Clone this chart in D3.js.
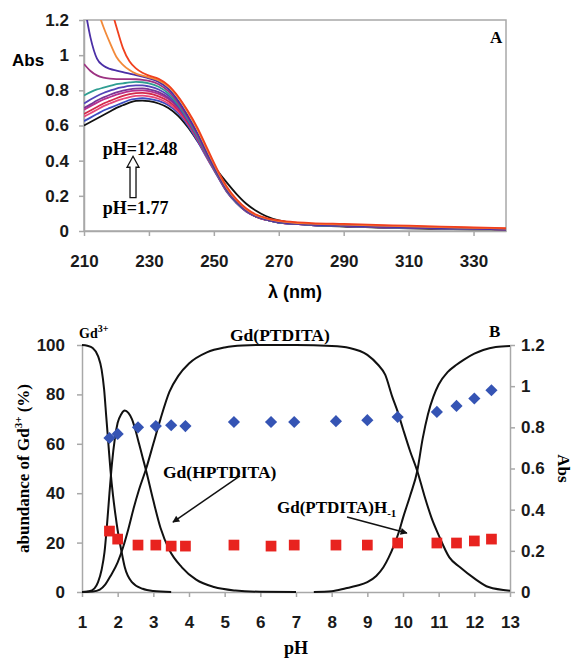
<!DOCTYPE html>
<html>
<head>
<meta charset="utf-8">
<script src="https://cdn.jsdelivr.net/npm/d3@7"></script>
<style>
  body { margin: 0; background: #fff; }
  svg { display: block; }
  .sans { font-family: "Liberation Sans", Arial, sans-serif; font-weight: bold; }
  .serif { font-family: "Liberation Serif", "Times New Roman", serif; font-weight: bold; }
</style>
</head>
<body>
<svg id="chart" width="572" height="658"></svg>
<script>
// ---------- panel A : UV spectra (pH 1.77 -> 12.48) ----------
const wavelengths = [210, 212, 214, 216, 218, 220, 222, 224, 226, 228, 230, 233, 236, 239, 242, 245,
  248, 251, 254, 257, 260, 263, 266, 270, 275, 280, 290, 300, 310, 320, 330, 340];

const specBlack = [0.60, 0.62, 0.64, 0.66, 0.68, 0.70, 0.715, 0.73, 0.74, 0.742, 0.738, 0.725, 0.70, 0.655, 0.59, 0.51,
  0.425, 0.345, 0.275, 0.21, 0.155, 0.115, 0.085, 0.06, 0.045, 0.035, 0.025, 0.02, 0.015, 0.012, 0.01, 0.008];
const specBlue = [0.625, 0.645, 0.665, 0.685, 0.70, 0.715, 0.73, 0.745, 0.752, 0.755, 0.752, 0.74, 0.715, 0.67, 0.60, 0.51,
  0.41, 0.315, 0.222, 0.158, 0.11, 0.082, 0.064, 0.048, 0.04, 0.034, 0.028, 0.022, 0.018, 0.015, 0.012, 0.01];
const specPink = [0.65, 0.67, 0.69, 0.71, 0.725, 0.74, 0.752, 0.762, 0.768, 0.77, 0.766, 0.752, 0.725, 0.68, 0.61, 0.52,
  0.415, 0.318, 0.225, 0.16, 0.112, 0.082, 0.064, 0.048, 0.04, 0.034, 0.028, 0.022, 0.018, 0.015, 0.012, 0.01];
const specCrimson = [0.665, 0.685, 0.705, 0.725, 0.74, 0.755, 0.768, 0.778, 0.784, 0.786, 0.782, 0.766, 0.738, 0.69, 0.615, 0.523,
  0.418, 0.32, 0.226, 0.16, 0.112, 0.082, 0.064, 0.048, 0.04, 0.035, 0.03, 0.025, 0.02, 0.016, 0.013, 0.01];
const specMagenta = [0.69, 0.71, 0.73, 0.748, 0.762, 0.775, 0.786, 0.794, 0.798, 0.80, 0.796, 0.78, 0.75, 0.70, 0.622, 0.527,
  0.42, 0.32, 0.226, 0.16, 0.112, 0.082, 0.064, 0.048, 0.04, 0.034, 0.028, 0.022, 0.018, 0.015, 0.012, 0.01];
const specPurple = [0.70, 0.72, 0.742, 0.76, 0.775, 0.788, 0.798, 0.806, 0.81, 0.811, 0.806, 0.79, 0.758, 0.705, 0.625, 0.53,
  0.422, 0.322, 0.228, 0.162, 0.113, 0.083, 0.064, 0.048, 0.04, 0.034, 0.028, 0.022, 0.018, 0.015, 0.012, 0.01];
const specViolet = [0.725, 0.748, 0.768, 0.785, 0.798, 0.81, 0.818, 0.825, 0.828, 0.828, 0.822, 0.805, 0.77, 0.712, 0.63, 0.533,
  0.424, 0.322, 0.228, 0.162, 0.113, 0.083, 0.064, 0.048, 0.04, 0.034, 0.028, 0.022, 0.018, 0.015, 0.012, 0.01];
const specTeal = [0.77, 0.79, 0.805, 0.815, 0.825, 0.835, 0.84, 0.845, 0.848, 0.846, 0.84, 0.82, 0.782, 0.72, 0.635, 0.535,
  0.425, 0.323, 0.228, 0.162, 0.113, 0.083, 0.064, 0.048, 0.04, 0.034, 0.028, 0.022, 0.018, 0.015, 0.012, 0.01];
const specMaroon = [0.95, 0.91, 0.885, 0.872, 0.866, 0.864, 0.864, 0.864, 0.863, 0.86, 0.854, 0.835, 0.795, 0.73, 0.645, 0.545,
  0.432, 0.328, 0.232, 0.165, 0.115, 0.085, 0.066, 0.05, 0.042, 0.036, 0.03, 0.024, 0.02, 0.016, 0.013, 0.01];
const specIndigo = [1.30, 1.10, 0.98, 0.94, 0.922, 0.912, 0.903, 0.895, 0.887, 0.878, 0.868, 0.848, 0.808, 0.742, 0.655, 0.555,
  0.44, 0.332, 0.235, 0.167, 0.117, 0.086, 0.067, 0.05, 0.042, 0.036, 0.03, 0.025, 0.02, 0.016, 0.013, 0.01];
const specOrange = [1.60, 1.42, 1.27, 1.16, 1.07, 0.99, 0.945, 0.915, 0.895, 0.884, 0.874, 0.856, 0.822, 0.76, 0.675, 0.575,
  0.458, 0.345, 0.245, 0.175, 0.124, 0.09, 0.072, 0.056, 0.047, 0.042, 0.036, 0.031, 0.026, 0.022, 0.018, 0.014];
const specRed = [1.90, 1.72, 1.56, 1.42, 1.29, 1.16, 1.04, 0.965, 0.925, 0.90, 0.884, 0.865, 0.828, 0.765, 0.682, 0.585,
  0.468, 0.352, 0.252, 0.18, 0.128, 0.094, 0.075, 0.06, 0.05, 0.045, 0.04, 0.035, 0.03, 0.025, 0.02, 0.016];

const spectra = [specBlack, specBlue, specPink, specCrimson, specMagenta, specPurple, specViolet,
  specTeal, specMaroon, specIndigo, specOrange, specRed];
const spectraColors = ["#111111", "#3b4cc0", "#e8487a", "#d42a4a", "#b8308c", "#7b3596", "#5344b8",
  "#2f9e92", "#9c3282", "#4b2fa6", "#f28a3a", "#f0401e"];

const lambdaTicks = [210, 230, 250, 270, 290, 310, 330];
const absTicks = [0, 0.2, 0.4, 0.6, 0.8, 1, 1.2];

// ---------- panel B : species distribution + Abs vs pH ----------
const phTicks = [1, 2, 3, 4, 5, 6, 7, 8, 9, 10, 11, 12, 13];
const pctTicks = [0, 20, 40, 60, 80, 100];

const gd3 = [[1, 100], [1.15, 99.7], [1.3, 98.8], [1.45, 95.5], [1.55, 90], [1.62, 82], [1.68, 71], [1.74, 60],
  [1.8, 49], [1.87, 39], [1.94, 31], [2.0, 25], [2.1, 17], [2.2, 10], [2.4, 4], [2.7, 1.3], [3.0, 0.4], [3.5, 0]];
const hptdita = [[1.0, 0], [1.2, 0.3], [1.35, 1.5], [1.45, 4], [1.55, 9], [1.63, 16], [1.7, 27], [1.77, 40],
  [1.84, 52], [1.92, 62], [2.0, 68.5], [2.1, 72], [2.2, 73.5], [2.3, 72.5], [2.4, 70], [2.5, 65.5], [2.6, 60],
  [2.7, 54.5], [2.8, 49], [3.0, 37], [3.2, 26], [3.45, 17], [3.8, 10], [4.2, 5], [4.7, 2], [5.3, 0.6], [6, 0.1], [7, 0]];
const ptdita = [[1.0, 0], [1.3, 0.2], [1.5, 1], [1.65, 3], [1.8, 6.5], [2.0, 12], [2.15, 18], [2.3, 25.5],
  [2.45, 34], [2.6, 41.5], [2.8, 50], [3.0, 60], [3.2, 70], [3.45, 81], [3.7, 87.5], [4.0, 92.5], [4.5, 97],
  [5.0, 99], [5.5, 99.8], [6, 100], [7, 100], [8, 99.6], [8.5, 98.8], [9.0, 96], [9.3, 92], [9.5, 88], [9.7, 79],
  [9.85, 73], [10.0, 66], [10.2, 57], [10.4, 49], [10.6, 39], [10.8, 30], [11.0, 23], [11.3, 14], [11.6, 10],
  [12.0, 5.5], [12.4, 2], [13, 0.5]];
const ptditaH = [[7.5, 0], [8.0, 0.3], [8.4, 1.5], [8.7, 2.5], [9.0, 4], [9.25, 6.5], [9.45, 10], [9.6, 14],
  [9.75, 19], [9.9, 25], [10.0, 30], [10.2, 39], [10.4, 49], [10.55, 62], [10.7, 72], [10.85, 79], [11.0, 84],
  [11.25, 89], [11.5, 92], [11.7, 94], [12.0, 96.5], [12.25, 98], [12.6, 99.2], [13, 99.6]];

// measured absorbances (right axis)
const phMeasured = [1.77, 2.0, 2.57, 3.07, 3.5, 3.9, 5.26, 6.3, 6.95, 8.12, 9.0, 9.85, 10.95, 11.5, 12.0, 12.48];
const absBlue = [0.748, 0.768, 0.80, 0.806, 0.81, 0.806, 0.826, 0.826, 0.826, 0.83, 0.835, 0.85, 0.875, 0.904, 0.94, 0.98];
const absRed = [0.296, 0.257, 0.228, 0.228, 0.223, 0.223, 0.228, 0.223, 0.228, 0.228, 0.228, 0.238, 0.238, 0.238, 0.248, 0.257];

const svg = d3.select("#chart");
const axisGrey = "#a8a8a8";

function styleAxis(g) {
  g.selectAll(".domain").attr("stroke", axisGrey).attr("stroke-width", 1.5);
  g.selectAll(".tick line").attr("stroke", axisGrey).attr("stroke-width", 1.5);
  g.selectAll(".tick text").attr("class", "sans").attr("font-size", 17).attr("fill", "#1a1a1a");
}

// ======================= panel A =======================
const A = { left: 84, right: 506, top: 20, bottom: 231 };
const xA = d3.scaleLinear().domain([210, 340]).range([A.left, A.right]);
const yA = d3.scaleLinear().domain([0, 1.2]).range([A.bottom, A.top]);

svg.append("defs").append("clipPath").attr("id", "clipA")
  .append("rect").attr("x", A.left).attr("y", A.top)
  .attr("width", A.right - A.left).attr("height", A.bottom - A.top);

const gxA = svg.append("g").attr("transform", `translate(0,${A.bottom})`)
  .call(d3.axisBottom(xA).tickValues(lambdaTicks).tickSize(5).tickPadding(19).tickSizeOuter(0));
styleAxis(gxA);
const gyA = svg.append("g").attr("transform", `translate(${A.left},0)`)
  .call(d3.axisLeft(yA).tickValues(absTicks).tickFormat(d3.format("~g")).tickSize(5).tickPadding(10).tickSizeOuter(0));
styleAxis(gyA);

// frame round the plot
svg.append("rect").attr("x", A.left).attr("y", A.top)
  .attr("width", A.right - A.left).attr("height", A.bottom - A.top)
  .attr("fill", "none").attr("stroke", axisGrey).attr("stroke-width", 1.5);

const specLine = d3.line()
  .x((d, i) => xA(wavelengths[i]))
  .y(d => yA(d))
  .curve(d3.curveMonotoneX);

svg.append("g").attr("clip-path", "url(#clipA)")
  .selectAll("path").data(spectra).join("path")
  .attr("d", specLine)
  .attr("fill", "none")
  .attr("stroke", (d, i) => spectraColors[i])
  .attr("stroke-width", 1.8);

svg.append("text").attr("class", "sans").attr("font-size", 17)
  .attr("x", 12).attr("y", 66).text("Abs");
svg.append("text").attr("class", "sans").attr("font-size", 18)
  .attr("x", xA(275)).attr("y", 298).attr("text-anchor", "middle").text("λ (nm)");
svg.append("text").attr("class", "serif").attr("font-size", 17)
  .attr("x", 490).attr("y", 43).text("A");

svg.append("text").attr("class", "serif").attr("font-size", 18)
  .attr("x", xA(215.8)).attr("y", yA(0.43)).text("pH=12.48");
svg.append("text").attr("class", "serif").attr("font-size", 18)
  .attr("x", xA(215.8)).attr("y", yA(0.097)).text("pH=1.77");

// hollow arrow pointing up
{
  const cx = xA(225.1), tip = yA(0.425), base = yA(0.19);
  const hw = 6, sw = 3, hh = 11;
  const pts = [[cx, tip], [cx + hw, tip + hh], [cx + sw, tip + hh], [cx + sw, base],
    [cx - sw, base], [cx - sw, tip + hh], [cx - hw, tip + hh]];
  svg.append("path").attr("d", "M" + pts.join("L") + "Z")
    .attr("fill", "#fff").attr("stroke", "#111").attr("stroke-width", 1.3);
}

// ======================= panel B =======================
const B = { left: 82, right: 510, top: 345, bottom: 592 };
const xB = d3.scaleLinear().domain([1, 13]).range([B.left, B.right]);
const yB = d3.scaleLinear().domain([0, 100]).range([B.bottom, B.top]);
const yAbs = d3.scaleLinear().domain([0, 1.2]).range([B.bottom, B.top]);

const gxB = svg.append("g").attr("transform", `translate(0,${B.bottom})`)
  .call(d3.axisBottom(xB).tickValues(phTicks).tickSize(5).tickPadding(19).tickSizeOuter(0));
styleAxis(gxB);
const gyB = svg.append("g").attr("transform", `translate(${B.left},0)`)
  .call(d3.axisLeft(yB).tickValues(pctTicks).tickSize(5).tickPadding(12).tickSizeOuter(0));
styleAxis(gyB);
const gyR = svg.append("g").attr("transform", `translate(${B.right},0)`)
  .call(d3.axisRight(yAbs).tickValues(absTicks).tickFormat(d3.format("~g")).tickSize(5).tickPadding(6).tickSizeOuter(0));
styleAxis(gyR);

const speciesLine = d3.line()
  .x(d => xB(d[0]))
  .y(d => yB(d[1]))
  .curve(d3.curveMonotoneX);

svg.append("g").selectAll("path").data([gd3, hptdita, ptdita, ptditaH]).join("path")
  .attr("d", speciesLine)
  .attr("fill", "none").attr("stroke", "#111").attr("stroke-width", 2);

const diamond = d3.symbol().type(d3.symbolSquare).size(74);
svg.append("g").selectAll("path").data(phMeasured).join("path")
  .attr("d", diamond)
  .attr("transform", (d, i) => `translate(${xB(d)},${yAbs(absBlue[i])}) rotate(45)`)
  .attr("fill", "#3554b4");

const square = d3.symbol().type(d3.symbolSquare).size(115);
svg.append("g").selectAll("path").data(phMeasured).join("path")
  .attr("d", square)
  .attr("transform", (d, i) => `translate(${xB(d)},${yAbs(absRed[i])})`)
  .attr("fill", "#e8231f");

// axis titles
svg.append("text").attr("class", "serif").attr("font-size", 18)
  .attr("x", xB(7)).attr("y", 654).attr("text-anchor", "middle").text("pH");

const leftTitle = svg.append("text").attr("class", "serif").attr("font-size", 17)
  .attr("transform", `translate(29,${(B.top + B.bottom) / 2}) rotate(-90)`)
  .attr("text-anchor", "middle");
leftTitle.append("tspan").text("abundance of Gd");
leftTitle.append("tspan").attr("font-size", 11).attr("dy", -7).text("3+");
leftTitle.append("tspan").attr("dy", 7).text(" (%)");

svg.append("text").attr("class", "serif").attr("font-size", 17)
  .attr("transform", `translate(558,${(B.top + B.bottom) / 2}) rotate(90)`)
  .attr("text-anchor", "middle").text("Abs");

// species labels
const gdLabel = svg.append("text").attr("class", "serif").attr("font-size", 14)
  .attr("x", 79).attr("y", 338);
gdLabel.append("tspan").text("Gd");
gdLabel.append("tspan").attr("font-size", 10).attr("dy", -6).text("3+");

svg.append("text").attr("class", "serif").attr("font-size", 17.5)
  .attr("x", 230).attr("y", 341).text("Gd(PTDITA)");
svg.append("text").attr("class", "serif").attr("font-size", 17)
  .attr("x", 489).attr("y", 337).text("B");
svg.append("text").attr("class", "serif").attr("font-size", 17.5)
  .attr("x", 163).attr("y", 478).text("Gd(HPTDITA)");
const hLabel = svg.append("text").attr("class", "serif").attr("font-size", 17)
  .attr("x", 277).attr("y", 513);
hLabel.append("tspan").text("Gd(PTDITA)H");
hLabel.append("tspan").attr("font-size", 11).attr("dy", 4).text("-1");

// pointer arrows
svg.append("defs").append("marker").attr("id", "head")
  .attr("viewBox", "0 0 10 10").attr("refX", 9).attr("refY", 5)
  .attr("markerWidth", 9).attr("markerHeight", 7).attr("orient", "auto")
  .attr("markerUnits", "userSpaceOnUse")
  .append("path").attr("d", "M0,0L10,5L0,10Z").attr("fill", "#111");

svg.append("line")
  .attr("x1", xB(5.43)).attr("y1", yB(47)).attr("x2", xB(3.55)).attr("y2", yB(28.3))
  .attr("stroke", "#111").attr("stroke-width", 1.5).attr("marker-end", "url(#head)");
svg.append("line")
  .attr("x1", xB(8.43)).attr("y1", yB(30.4)).attr("x2", xB(10.11)).attr("y2", yB(23.9))
  .attr("stroke", "#111").attr("stroke-width", 1.5).attr("marker-end", "url(#head)");
</script>
</body>
</html>
